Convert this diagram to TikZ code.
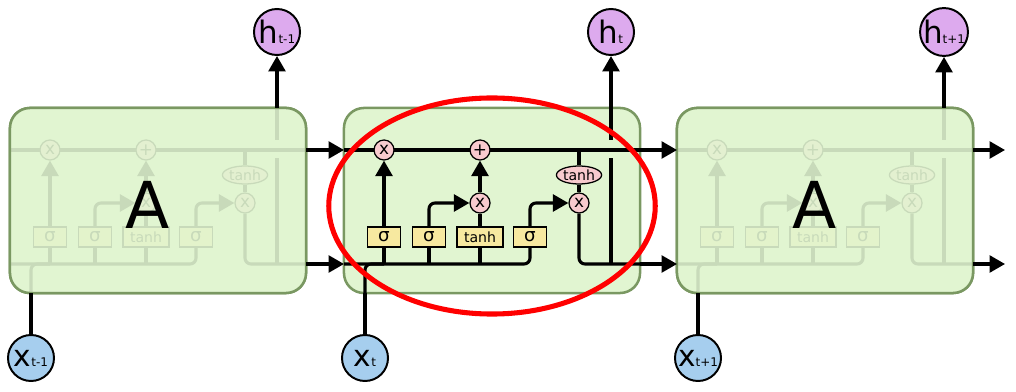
\documentclass[tikz,border=0pt]{standalone}
\usepackage{fontspec}
\setmainfont{DejaVu Sans}
\usetikzlibrary{arrows.meta,shapes.geometric}
\definecolor{cellfill}{HTML}{E1F5D1}
\definecolor{cellline}{HTML}{7A9862}
\definecolor{opfill}{HTML}{F8CACE}
\definecolor{gatefill}{HTML}{F7E9A0}
\definecolor{hfill}{HTML}{DDAAEE}
\definecolor{xfill}{HTML}{A6CEEE}
\pgfdeclarelayer{cellbg}
\pgfdeclarelayer{wires}
\pgfdeclarelayer{veil}
\pgfsetlayers{cellbg,wires,main,veil}

\begin{document}
\begin{tikzpicture}[
  x=0.025cm, y=-0.025cm,
  >={Triangle[length=11pt,width=12pt]},
  wire/.style={line width=2.2pt},
  cellbox/.style={draw=cellline, fill=cellfill, line width=1.8pt, rounded corners=0.5cm,
    minimum width=7.4cm, minimum height=4.625cm, inner sep=0pt},
  op/.style={draw, circle, fill=opfill, line width=0.9pt, minimum size=0.5cm, inner sep=0pt,
    font=\fontsize{12}{12}\selectfont},
  tanhop/.style={draw, ellipse, fill=opfill, line width=0.9pt, minimum width=1.125cm,
    minimum height=0.45cm, inner sep=0pt, font=\fontsize{10}{10}\selectfont},
  gate/.style={draw, fill=gatefill, line width=0.9pt, minimum width=0.825cm,
    minimum height=0.5cm, inner sep=0pt, font=\fontsize{13}{13}\selectfont},
  state/.style={draw, circle, line width=1.4pt, minimum size=1.15cm, inner sep=0pt},
  big/.style={font=\fontsize{46}{46}\selectfont}
]
  \useasboundingbox (0,0) rectangle (1016,392);

  \foreach \L/\n/\sub in {10/a/t-1, 344/b/t, 677/c/t+1}{
    \begin{scope}[shift={(\L,0)}]
      \begin{pgfonlayer}{cellbg}
        \node[cellbox] (cell\n) at (148,200.5) {};
      \end{pgfonlayer}
      \coordinate (cin\n)  at (0,150);
      \coordinate (cout\n) at (296,150);
      \coordinate (hin\n)  at (0,264);
      \coordinate (hout\n) at (296,264);
      \coordinate (xin\n)  at (21,293);
      \coordinate (htop\n) at (267,108);

      % pointwise operations and gates
      \node[op] (f\n) at (40,150) {x};
      \node[op] (p\n) at (136,150) {+};
      \node[op] (i\n) at (136,203) {x};
      \node[op] (o\n) at (235,203) {x};
      \node[tanhop] (t\n) at (235,175) {tanh};
      \node[gate] (s1\n) at (40,237) {σ};
      \node[gate] (s2\n) at (85,237) {σ};
      \node[gate, minimum width=1.15cm, font=\fontsize{10}{10}\selectfont] (g\n) at (136,237) {tanh};
      \node[gate] (s3\n) at (186,237) {σ};

      \begin{pgfonlayer}{wires}
        \draw[wire] (cin\n) -- (cout\n);
        \draw[wire, rounded corners=0.15cm] (hin\n) -| (s3\n.south);
        \draw[wire, rounded corners=0.15cm] (xin\n) |- (s1\n.south |- hin\n);
        \foreach \g in {s1,s2,g}
          \draw[wire] (\g\n.south) -- (\g\n.south |- hin\n);
        \draw[wire,->] (s1\n.north) -- (f\n.south);
        \draw[wire,->, rounded corners=0.15cm] (s2\n.north) |- (i\n.west);
        \draw[wire] (g\n.north) -- (i\n.south);
        \draw[wire,->] (i\n.north) -- (p\n.south);
        \draw[wire,->, rounded corners=0.15cm] (s3\n.north) |- (o\n.west);
        \draw[wire] (t\n.north |- cin\n) -- (t\n.north);
        \draw[wire] (t\n.south) -- (o\n.north);
        \draw[wire, rounded corners=0.15cm] (o\n.south) |- (hout\n);
        \draw[wire] (267,264) -- (267,158);
        \draw[wire] (267,140) -- (htop\n);
      \end{pgfonlayer}

      % inputs and outputs
      \node[state, fill=hfill] (h\n) at (267,32)
        {{\fontsize{22}{22}\selectfont h}{\fontsize{8.5}{8.5}\selectfont\sub}};
      \node[state, fill=xfill] (x\n) at (21,358)
        {{\fontsize{21}{21}\selectfont x}{\fontsize{8.5}{8.5}\selectfont\sub}};
    \end{scope}
  }

  \begin{pgfonlayer}{veil}
    \foreach \n in {a,c}{
      \node[cellbox, fill opacity=0.89] (veil\n) at (cell\n) {};
      \node[big] (A\n) at ([shift={(-10,4)}]cell\n.center) {A};
    }
    \coordinate (cend) at (1005,150);
    \coordinate (hend) at (1005,264);
    \draw[wire,->] (couta) -- (cinb);
    \draw[wire,->] (houta) -- (hinb);
    \draw[wire,->] (coutb) -- (cinc);
    \draw[wire,->] (houtb) -- (hinc);
    \draw[wire,->] (coutc) -- (cend);
    \draw[wire,->] (houtc) -- (hend);
    \foreach \n in {a,b,c}{
      \draw[wire,->] (htop\n) -- (h\n);
      \draw[wire] (x\n) -- (xin\n);
    }
    % focus on the middle cell
    \draw[red, line width=3.6pt] (492,206) ellipse [x radius=4.08cm, y radius=2.7cm];
  \end{pgfonlayer}
\end{tikzpicture}
\end{document}
